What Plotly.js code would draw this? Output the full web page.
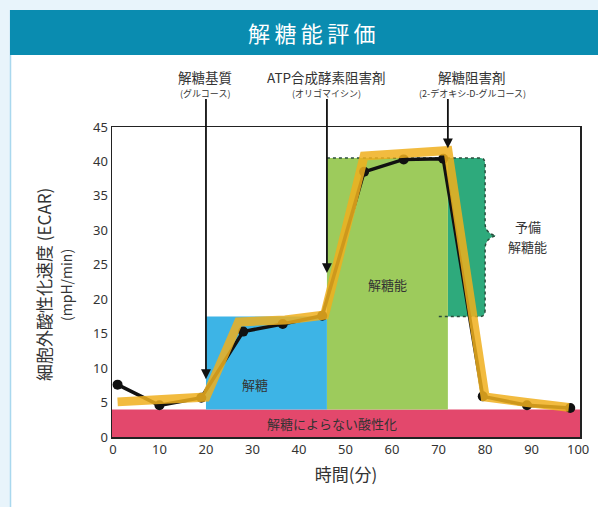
<!DOCTYPE html>
<html><head><meta charset="utf-8">
<script src="https://cdn.plot.ly/plotly-3.0.1.min.js"></script>
<style>html,body{margin:0;padding:0;background:#e8f4fb;}#c{width:598px;height:507px;}</style>
</head><body><div id="c"></div>
<script>
// data
const measTime = [1, 10, 19, 28, 36.5, 45, 54, 62.5, 71, 79.5, 89, 98.3];
const measEcar = [7.6, 4.6, 5.7, 15.3, 16.4, 17.6, 38.5, 40.3, 40.4, 5.9, 4.6, 4.2];
const trendTime = [1, 10, 20, 27, 37, 45.5, 54, 72, 80, 89, 98];
const trendEcar = [5.1, 5.4, 5.8, 16.7, 17.0, 17.7, 40.8, 41.6, 5.8, 5.0, 4.3];
const xTicks = [0, 10, 20, 30, 40, 50, 60, 70, 80, 90, 100];
const yTicks = [0, 5, 10, 15, 20, 25, 30, 35, 40, 45];
const injections = [
  {t: 20, head: 8.4, label: '解糖基質', sub: '(グルコース)', lx: 19.8},
  {t: 46, head: 23.8, label: 'ATP合成酵素阻害剤', sub: '(オリゴマイシン)', lx: 45.8},
  {t: 72, head: 41.9, label: '解糖阻害剤', sub: '(2-デオキシ-D-グルコース)', lx: 77.2}
];
const nonGlyco = 4.0;      // 解糖によらない酸性化
const glycoTop = 17.5;     // 解糖
const capacityTop = 40.5;  // 解糖能

const FONT = '"Noto Sans CJK JP", "Noto Sans", sans-serif';
const TXT = '#333333';

// page <-> paper helpers (plot area 112..580 x, 127..437 y)
const PX = X => (X - 112) / 468;
const PY = Y => (437 - Y) / 310;

const shapes = [
  {type:'rect', xref:'paper', yref:'paper', x0:PX(10), x1:PX(600), y0:PY(510), y1:PY(55), fillcolor:'#ffffff', line:{width:0}, layer:'below'},
  {type:'line', xref:'paper', yref:'paper', x0:PX(10.5), x1:PX(10.5), y0:PY(510), y1:PY(10), line:{color:'#a9d8ee', width:1.5}, layer:'below'},
  {type:'rect', xref:'paper', yref:'paper', x0:PX(10), x1:PX(600), y0:PY(55), y1:PY(10), fillcolor:'#0a8cb0', line:{width:0}, layer:'below'},
  {type:'path', xref:'x', yref:'y', layer:'below', fillcolor:'#2eaa7c', line:{width:0},
   path:`M 72,${capacityTop} L 79,${capacityTop} Q 80,${capacityTop} 80,39.5 L 80,31 Q 80,29.6 82.3,29.2 Q 80,28.8 80,27.4 L 80,18.5 Q 80,${glycoTop} 79,${glycoTop} L 72,${glycoTop} Z`},
  {type:'rect', xref:'x', yref:'y', x0:46, x1:72, y0:nonGlyco, y1:capacityTop, fillcolor:'#9dcb5c', line:{width:0}, layer:'below'},
  {type:'rect', xref:'x', yref:'y', x0:20, x1:46, y0:nonGlyco, y1:glycoTop, fillcolor:'#3db4e6', line:{width:0}, layer:'below'},
  {type:'rect', xref:'paper', yref:'y', x0:0, x1:1, y0:0, y1:nonGlyco, fillcolor:'#e3486c', line:{width:0}, layer:'below'},
  {type:'path', xref:'x', yref:'y', layer:'below', line:{color:'#2b4d3c', width:1.5, dash:'dot'},
   path:`M 46,${capacityTop} L 79,${capacityTop} Q 80,${capacityTop} 80,39.5 L 80,31 Q 80,29.6 82.3,29.2 Q 80,28.8 80,27.4 L 80,18.5 Q 80,${glycoTop} 79,${glycoTop} L 69.5,${glycoTop}`}
];

const A = (o) => Object.assign({showarrow:false, xanchor:'center', yanchor:'middle'}, o);
const annotations = [
  A({xref:'paper', yref:'paper', x:PX(312), y:PY(32), text:'解\u2009糖\u2009能\u2009評\u2009価', font:{family:FONT, size:22, color:'#ffffff'}}),
  A({xref:'x', yref:'y', x:30.5, y:7.6, text:'解糖', font:{family:FONT, size:13, color:TXT}}),
  A({xref:'x', yref:'y', x:59, y:22.2, text:'解糖能', font:{family:FONT, size:13, color:TXT}}),
  A({xref:'x', yref:'y', x:47, y:2.0, text:'解糖によらない酸性化', font:{family:FONT, size:13, color:TXT}}),
  A({xref:'x', yref:'paper', x:89.2, y:PY(226), text:'予備', font:{family:FONT, size:13, color:TXT}}),
  A({xref:'x', yref:'paper', x:89.2, y:PY(246), text:'解糖能', font:{family:FONT, size:13, color:TXT}})
];
injections.forEach(inj => {
  annotations.push({xref:'x', yref:'y', x:inj.t, y:inj.head, axref:'x', ayref:'y', ax:inj.t, ay:49.3,
    text:'', showarrow:true, arrowhead:2, arrowsize:1.1, arrowwidth:1.8, arrowcolor:'#111111', standoff:0, startstandoff:0});
  annotations.push(A({xref:'x', yref:'paper', x:inj.lx, y:PY(77), text:inj.label, font:{family:FONT, size:13.5, color:TXT}}));
  annotations.push(A({xref:'x', yref:'paper', x:inj.lx, y:PY(93), text:inj.sub, font:{family:FONT, size:9, color:TXT}}));
});
annotations.push(A({xref:'paper', yref:'paper', x:PX(43), y:PY(285), text:'細胞外酸性化速度 (ECAR)', textangle:-90, font:{family:FONT, size:17, color:TXT}}));
annotations.push(A({xref:'paper', yref:'paper', x:PX(66), y:PY(285), text:'(mpH/min)', textangle:-90, font:{family:FONT, size:14, color:TXT}}));

const traces = [
  {x:measTime, y:measEcar, type:'scatter', mode:'lines+markers', line:{color:'#111111', width:3.5}, marker:{color:'#111111', size:10}, hoverinfo:'skip', cliponaxis:false},
  {x:trendTime, y:trendEcar, type:'scatter', mode:'lines', line:{color:'#f0b01e', width:9}, opacity:0.85, hoverinfo:'skip', cliponaxis:false}
];

const layout = {
  width:598, height:507,
  margin:{l:112, r:18, t:127, b:70},
  paper_bgcolor:'#e8f4fb', plot_bgcolor:'rgba(0,0,0,0)',
  showlegend:false,
  xaxis:{range:[-0.2,100.4], tickvals:xTicks, ticktext:xTicks.map(String), showgrid:false, zeroline:false,
    showline:true, mirror:true, linecolor:'#222222', linewidth:1.5, ticks:'', ticklen:0,
    tickfont:{family:'"Noto Sans", sans-serif', size:13, color:TXT},
    title:{text:'時間(分)', font:{family:FONT, size:17, color:TXT}, standoff:12}},
  yaxis:{range:[0,45], tickvals:yTicks, ticktext:yTicks.map(String), showgrid:false, zeroline:false,
    showline:true, mirror:true, linecolor:'#222222', linewidth:1.5, ticks:'', ticklen:0,
    tickfont:{family:'"Noto Sans", sans-serif', size:13, color:TXT}},
  shapes:shapes, annotations:annotations
};
Plotly.newPlot('c', traces, layout, {staticPlot:true, displayModeBar:false});
</script></body></html>
